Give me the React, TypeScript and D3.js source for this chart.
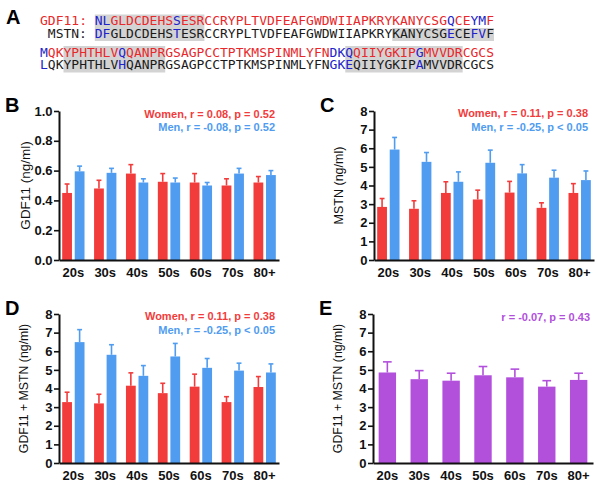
import { useEffect, useRef } from "react";
import { axisBottom, axisLeft, scaleBand, scaleLinear, select } from "d3";

// --- panel A: mature peptide sequences
const gdf11Seq =
  "NLGLDCDEHSSESRCCRYPLTVDFEAFGWDWIIAPKRYKANYCSGQCEYMFMQKYPHTHLVQQANPRGSAGPCCTPTKMSPINMLYFNDKQQIIYGKIPGMVVDRCGCS";
const mstnSeq =
  "DFGLDCDEHSTESRCCRYPLTVDFEAFGWDWIIAPKRYKANYCSGECEFVFLQKYPHTHLVHQANPRGSAGPCCTPTKMSPINMLYFNGKEQIIYGKIPAMVVDRCGCS";
const seqBreak = 51;
const blueResidues = [0, 1, 10, 45, 48, 49, 51, 61, 88, 89, 90, 99];
// shaded residue ranges [from, to, which rows]
const shadedRanges: [number, number, "both" | "mstn"][] = [
  [0, 13, "both"],
  [38, 50, "mstn"],
  [54, 66, "both"],
  [90, 104, "both"],
];

// --- bar panels
const ageGroups = ["20s", "30s", "40s", "50s", "60s", "70s", "80+"];

const gdf11Women = [0.45, 0.48, 0.58, 0.525, 0.52, 0.5, 0.52];
const gdf11WomenSem = [0.06, 0.055, 0.06, 0.055, 0.06, 0.045, 0.04];
const gdf11Men = [0.595, 0.585, 0.52, 0.52, 0.5, 0.58, 0.57];
const gdf11MenSem = [0.035, 0.03, 0.025, 0.03, 0.02, 0.035, 0.03];

const mstnWomen = [2.85, 2.75, 3.6, 3.25, 3.62, 2.8, 3.6];
const mstnWomenSem = [0.45, 0.43, 0.6, 0.5, 0.6, 0.27, 0.5];
const mstnMen = [5.93, 5.27, 4.2, 5.22, 4.65, 4.42, 4.29];
const mstnMenSem = [0.65, 0.5, 0.53, 0.68, 0.47, 0.4, 0.49];

const sumWomen = [3.27, 3.2, 4.15, 3.75, 4.1, 3.27, 4.08];
const sumWomenSem = [0.53, 0.49, 0.69, 0.53, 0.67, 0.29, 0.56];
const sumMen = [6.49, 5.81, 4.68, 5.72, 5.11, 4.96, 4.86];
const sumMenSem = [0.67, 0.54, 0.55, 0.7, 0.5, 0.4, 0.46];

const sumAll = [4.86, 4.5, 4.42, 4.71, 4.6, 4.1, 4.46];
const sumAllSem = [0.57, 0.46, 0.4, 0.47, 0.44, 0.32, 0.36];

const gdf11Ticks = [0, 0.2, 0.4, 0.6, 0.8, 1.0];
const ngTicks = [0, 1, 2, 3, 4, 5, 6, 7, 8];

const RED = "#f23c3c";
const BLUE = "#4f9cf0";
const PURPLE = "#b250dc";
const SEQ_RED = "#e8282b";
const SEQ_BLUE = "#2222cc";
const FONT = "Arial, 'Liberation Sans', sans-serif";
const MONO = "'DejaVu Sans Mono', monospace";

interface Series {
  values: number[];
  sem: number[];
  color: string;
}

interface Note {
  text: string;
  color: string;
}

interface PanelProps {
  letter: string;
  left: number;
  right: number;
  top: number;
  bottom: number;
  ticks: number[];
  tickFmt: (d: number) => string;
  yLabel: string;
  labelSize: number;
  labelX: number;
  series: Series[];
  notes: Note[];
  noteRight: number;
  noteY: number;
}

function BarPanel({
  letter,
  left,
  right,
  top,
  bottom,
  ticks,
  tickFmt,
  yLabel,
  labelSize,
  labelX,
  series,
  notes,
  noteRight,
  noteY,
}: PanelProps) {
  const gx = useRef<SVGGElement>(null);
  const gy = useRef<SVGGElement>(null);

  const x = scaleBand(ageGroups, [left, right]).paddingInner(0.3).paddingOuter(0.1);
  const inner = scaleBand(
    series.map((_, i) => i),
    [0, x.bandwidth()]
  ).paddingInner(0.22);
  const y = scaleLinear([0, ticks[ticks.length - 1]], [bottom, top]);

  useEffect(() => {
    const g = select(gy.current!);
    g.call(
      axisLeft(y)
        .tickValues(ticks)
        .tickFormat(tickFmt as any)
        .tickSize(5)
        .tickSizeOuter(0)
        .tickPadding(1.5) as any
    );
    g.attr("font-family", FONT).attr("font-size", 13).attr("font-weight", "bold");
    g.select(".domain").attr("stroke-width", 2).attr("stroke", "#111");
    g.selectAll(".tick line").attr("stroke-width", 1.6).attr("stroke", "#111");
    g.selectAll(".tick text").attr("fill", "#111");
  }, [gy, y]);

  useEffect(() => {
    const g = select(gx.current!);
    g.call(axisBottom(x).tickSize(0).tickSizeOuter(0).tickPadding(8) as any);
    g.attr("font-family", FONT).attr("font-size", 13).attr("font-weight", "bold");
    g.select(".domain").attr("stroke-width", 2).attr("stroke", "#111");
    g.selectAll(".tick text").attr("fill", "#111");
  }, [gx, x]);

  const capW = inner.bandwidth() * 0.5;

  return (
    <g>
      <text x={left - 54} y={top + 1} fontFamily={FONT} fontSize={20} fontWeight="bold">
        {letter}
      </text>
      <text
        transform={`translate(${labelX},${(top + bottom) / 2}) rotate(-90)`}
        textAnchor="middle"
        dominantBaseline="central"
        fontFamily={FONT}
        fontSize={labelSize}
        fill="#111"
      >
        {yLabel}
      </text>
      {series.map((s, si) =>
        ageGroups.map((a, i) => {
          const bx = x(a)! + inner(si)!;
          const cx = bx + inner.bandwidth() / 2;
          const yt = y(s.values[i]);
          const ye = y(s.values[i] + s.sem[i]);
          return (
            <g key={`${si}-${a}`}>
              <rect x={bx} y={yt} width={inner.bandwidth()} height={bottom - yt} fill={s.color} />
              <line x1={cx} x2={cx} y1={yt} y2={ye} stroke={s.color} strokeWidth={1.6} />
              <line x1={cx - capW / 2} x2={cx + capW / 2} y1={ye} y2={ye} stroke={s.color} strokeWidth={1.6} />
            </g>
          );
        })
      )}
      <g ref={gx} transform={`translate(0,${bottom})`} />
      <g ref={gy} transform={`translate(${left},0)`} />
      {notes.map((n, i) => (
        <text
          key={i}
          x={noteRight}
          y={noteY + i * 13.5}
          textAnchor="end"
          fontFamily={FONT}
          fontSize={11}
          fontWeight="bold"
          fill={n.color}
        >
          {n.text}
        </text>
      ))}
    </g>
  );
}

function SeqLine({ seq, from, to, x0, y, color }: { seq: string; from: number; to: number; x0: number; y: number; color: string }) {
  // split into colour runs
  const runs: { text: string; blue: boolean }[] = [];
  for (let i = from; i < to; i++) {
    const blue = blueResidues.includes(i);
    const last = runs[runs.length - 1];
    if (last && last.blue === blue) last.text += seq[i];
    else runs.push({ text: seq[i], blue });
  }
  return (
    <text x={x0} y={y} fontFamily={MONO} fontSize={13}>
      {runs.map((r, i) => (
        <tspan key={i} fill={r.blue ? SEQ_BLUE : color}>
          {r.text}
        </tspan>
      ))}
    </text>
  );
}

function SequencePanel() {
  const x0 = 40;
  const cw = 13 * 0.6021;
  const xs = x0 + 7 * cw;
  const base = [25, 37.5, 57, 69];

  const shade = shadedRanges.flatMap(([a, b, rows], k) => {
    const firstRow = a < seqBreak;
    const start = firstRow ? xs + a * cw : x0 + (a - seqBreak) * cw;
    const w = (b - a + 1) * cw;
    const yTop = firstRow ? (rows === "both" ? base[0] - 10.5 : base[1] - 9.5) : base[2] - 11;
    const yBot = firstRow ? base[1] + 3.5 : base[3] + 3.5;
    return [<rect key={k} x={start} y={yTop} width={w} height={yBot - yTop} fill="#d3d3d3" />];
  });

  return (
    <g>
      <text x={6} y={24} fontFamily={FONT} fontSize={20} fontWeight="bold">
        A
      </text>
      {shade}
      <text x={x0} y={base[0]} fontFamily={MONO} fontSize={13} fill={SEQ_RED}>
        GDF11:
      </text>
      <text x={x0 + cw} y={base[1]} fontFamily={MONO} fontSize={13} fill="#1a1a1a">
        MSTN:
      </text>
      <SeqLine seq={gdf11Seq} from={0} to={seqBreak} x0={xs} y={base[0]} color={SEQ_RED} />
      <SeqLine seq={mstnSeq} from={0} to={seqBreak} x0={xs} y={base[1]} color="#1a1a1a" />
      <SeqLine seq={gdf11Seq} from={seqBreak} to={gdf11Seq.length} x0={x0} y={base[2]} color={SEQ_RED} />
      <SeqLine seq={mstnSeq} from={seqBreak} to={mstnSeq.length} x0={x0} y={base[3]} color="#1a1a1a" />
    </g>
  );
}

export default function App() {
  const fmt1 = (d: number) => d.toFixed(1);
  const fmt0 = (d: number) => String(d);
  return (
    <svg
      width={600}
      height={483}
      style={{ position: "absolute", left: 0, top: 0, background: "#fff" }}
    >
      <SequencePanel />
      <BarPanel
        letter="B"
        left={59}
        right={279}
        top={111}
        bottom={260}
        ticks={gdf11Ticks}
        tickFmt={fmt1}
        yLabel="GDF11 (ng/ml)"
        labelSize={13.5}
        labelX={25}
        series={[
          { values: gdf11Women, sem: gdf11WomenSem, color: RED },
          { values: gdf11Men, sem: gdf11MenSem, color: BLUE },
        ]}
        notes={[
          { text: "Women, r = 0.08, p = 0.52", color: RED },
          { text: "Men, r = -0.08, p = 0.52", color: BLUE },
        ]}
        noteRight={275}
        noteY={117.5}
      />
      <BarPanel
        letter="C"
        left={374}
        right={594}
        top={111}
        bottom={260}
        ticks={ngTicks}
        tickFmt={fmt0}
        yLabel="MSTN (ng/ml)"
        labelSize={12.5}
        labelX={339}
        series={[
          { values: mstnWomen, sem: mstnWomenSem, color: RED },
          { values: mstnMen, sem: mstnMenSem, color: BLUE },
        ]}
        notes={[
          { text: "Women, r = 0.11, p = 0.38", color: RED },
          { text: "Men, r = -0.25, p < 0.05", color: BLUE },
        ]}
        noteRight={588}
        noteY={117}
      />
      <BarPanel
        letter="D"
        left={59}
        right={279}
        top={314}
        bottom={463}
        ticks={ngTicks}
        tickFmt={fmt0}
        yLabel="GDF11 + MSTN (ng/ml)"
        labelSize={12.3}
        labelX={24}
        series={[
          { values: sumWomen, sem: sumWomenSem, color: RED },
          { values: sumMen, sem: sumMenSem, color: BLUE },
        ]}
        notes={[
          { text: "Women, r = 0.11, p = 0.38", color: RED },
          { text: "Men, r = -0.25, p < 0.05", color: BLUE },
        ]}
        noteRight={275}
        noteY={320}
      />
      <BarPanel
        letter="E"
        left={373}
        right={593}
        top={314}
        bottom={463}
        ticks={ngTicks}
        tickFmt={fmt0}
        yLabel="GDF11 + MSTN (ng/ml)"
        labelSize={12.3}
        labelX={338}
        series={[{ values: sumAll, sem: sumAllSem, color: PURPLE }]}
        notes={[{ text: "r = -0.07, p = 0.43", color: PURPLE }]}
        noteRight={590}
        noteY={321}
      />
    </svg>
  );
}
